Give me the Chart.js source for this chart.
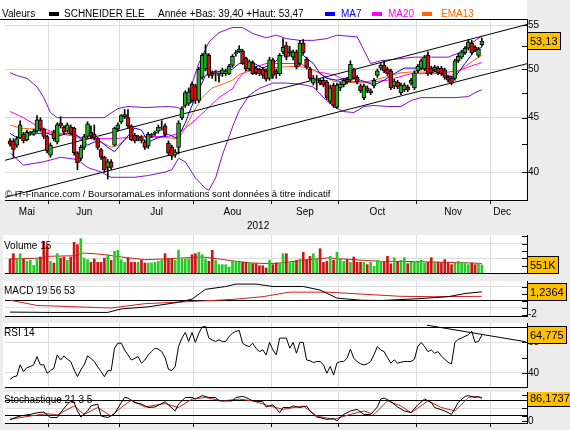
<!DOCTYPE html>
<html lang="fr">
<head>
<meta charset="UTF-8">
<title>SCHNEIDER ELE - Année</title>
<script src="https://cdn.jsdelivr.net/npm/chart.js"></script>
<style>
  body { margin: 0; background: #ececec; font-family: "Liberation Sans", Arial, sans-serif; font-size: 10px; color: #000; }
  #wrap { position: relative; width: 570px; height: 430px; overflow: hidden; }
  canvas { position: absolute; left: 0; }
  .t { position: absolute; white-space: nowrap; line-height: 12px; }
  .sw { position: absolute; width: 10px; height: 4px; }
</style>
</head>
<body>
<div id="wrap">
  <canvas id="cMain" width="570" height="235" style="top:0px"></canvas>
  <canvas id="cVol" width="570" height="41" style="top:235px"></canvas>
  <canvas id="cMacd" width="570" height="38" style="top:281px"></canvas>
  <canvas id="cRsi" width="570" height="67" style="top:323px"></canvas>
  <canvas id="cSto" width="570" height="38" style="top:392px"></canvas>

  <div class="t" style="left:2px;top:8px">Valeurs</div>
  <div class="sw" style="left:49px;top:12px;background:#000"></div>
  <div class="t" style="left:64px;top:8px">SCHNEIDER ELE</div>
  <div class="t" style="left:158px;top:8px">Année +Bas: 39,40 +Haut: 53,47</div>
  <div class="sw" style="left:325px;top:12px;background:#0000ff"></div>
  <div class="t" style="left:341px;top:8px;color:#0000ff">MA7</div>
  <div class="sw" style="left:372px;top:12px;background:#ff00ff"></div>
  <div class="t" style="left:388px;top:8px;color:#ff00ff">MA20</div>
  <div class="sw" style="left:422px;top:12px;background:#ff6600"></div>
  <div class="t" style="left:441px;top:8px;color:#ff6600">EMA13</div>

  <div class="t" style="left:5px;top:188px;font-size:9.5px">© IT-Finance.com / BoursoramaLes informations sont données à titre indicatif</div>
  <div class="t" style="left:247px;top:220px">2012</div>

  <div class="t" style="left:4px;top:240px">Volume 15</div>
  <div class="t" style="left:4px;top:285px">MACD 19 56 53</div>
  <div class="t" style="left:4px;top:327px">RSI 14</div>
  <div class="t" style="left:4px;top:394px">Stochastique 21 3 5</div>
</div>
<script>
// --- données (une séance par index, 0 = mi-mai) ---
const opens = [42.8,42.8,42.4,43.1,43.4,42.9,43.5,43.4,43.7,44.8, 43.9,43.2,41.5,43.6,42.7,44.5,44.1,43.7,44.1,44.0,
  41.7,41.2,42.2,43.2,43.6,43.4,43.0,42.0,41.3,40.4, 40.9,42.4,43.9,44.6,45.1,45.0,44.2,43.3,43.1,43.1,
  42.7,42.3,43.3,43.5,43.7,44.0,44.2,42.6,42.2,41.5, 42.2,45.0,46.2,46.4,48.4,48.2,46.7,49.1,50.0,51.5,
  49.6,49.5,49.3,49.5,49.5,49.5,50.4,51.7,51.9,52.0, 51.2,50.0,50.7,50.1,50.0,50.0,49.8,49.0,51.0,49.8,
  49.5,51.9,52.6,51.8,51.3,51.9,50.6,52.9,51.1,50.0, 48.5,48.8,48.8,48.8,48.6,46.6,48.3,46.0,48.0,48.3,
  48.9,48.8,49.9,49.1,48.2,47.0,48.0,47.5,48.2,49.3, 50.1,50.4,50.0,49.8,48.2,48.6,47.5,47.8,48.1,48.5,
  48.0,49.8,50.1,50.0,51.5,50.1,49.9,50.1,50.1,49.9, 49.1,49.0,49.0,50.9,51.3,51.8,52.3,52.9,52.4,51.5,
  52.7];
const highs = [43.0,43.0,43.2,44.7,43.6,43.8,43.7,43.9,45.2,45.0, 44.0,43.3,42.6,43.8,44.5,45.1,44.2,44.5,44.3,44.1,
  41.8,42.4,43.4,44.6,44.2,44.3,43.1,42.1,41.4,41.1, 41.1,44.1,44.5,45.3,45.8,45.8,44.3,43.5,43.3,43.3,
  42.9,43.6,43.5,43.7,44.3,44.7,44.4,42.8,42.4,42.0, 44.7,46.1,47.7,48.0,48.6,48.4,50.2,51.7,52.7,51.7,
  49.8,49.8,49.6,50.1,50.0,50.5,51.6,52.1,52.6,52.2, 51.3,51.0,50.9,50.3,50.1,50.2,50.0,51.3,51.2,50.0,
  51.7,53.4,53.0,52.5,52.1,52.1,53.2,53.3,51.3,50.2, 49.3,49.3,49.0,49.0,48.8,48.3,48.5,48.5,48.6,49.0,
  49.1,50.9,50.1,49.3,48.4,48.4,48.2,47.9,49.0,50.0, 50.6,50.9,50.2,50.0,48.9,48.8,48.5,48.5,48.3,49.0,
  49.8,50.5,51.1,51.5,51.9,50.3,50.4,50.3,50.3,50.1, 49.3,49.2,51.1,51.7,52.1,52.5,53.3,53.2,52.6,52.4,
  53.47];
const lows = [42.3,41.3,42.2,43.0,42.6,42.8,43.3,43.3,43.6,43.7, 43.0,41.7,41.3,42.8,42.5,44.0,43.4,43.6,43.4,41.5,
  40.2,41.0,42.0,43.0,43.0,42.9,42.0,41.1,40.0,39.4, 40.2,42.3,43.7,44.4,44.9,44.0,42.8,42.6,42.8,42.6,
  42.0,42.1,43.1,43.3,43.5,43.8,43.2,41.5,41.1,41.3, 41.6,44.8,46.0,46.2,46.5,46.4,46.5,48.9,49.8,49.1,
  49.0,48.7,48.6,49.2,49.3,49.4,50.2,51.4,51.8,50.5, 49.8,49.8,49.4,49.4,49.3,49.0,48.7,48.8,49.0,49.0,
  49.3,51.7,51.0,51.4,51.0,50.0,50.4,51.6,50.0,48.8, 48.3,47.8,48.3,48.1,46.8,46.4,46.0,45.9,47.7,48.1,
  48.4,48.6,48.9,48.4,47.5,46.8,47.5,47.3,48.0,49.1, 49.9,49.6,49.3,47.8,47.9,47.9,47.3,47.6,47.6,48.3,
  47.8,49.6,49.9,49.8,49.3,49.4,49.7,49.4,49.3,48.9, 48.6,48.3,48.8,50.7,51.1,51.6,52.1,51.6,51.9,51.3,
  52.5];
const closes = [42.5,42.0,43.0,44.3,42.8,43.6,43.55,43.7,44.8,43.9, 43.2,41.9,42.4,43.0,44.3,44.2,43.6,44.3,43.5,41.7,
  40.8,42.2,43.2,44.4,43.2,43.1,42.2,41.3,40.2,40.9, 40.4,44.0,44.3,45.2,45.3,44.2,42.9,42.8,43.15,42.8,
  42.2,43.4,43.35,43.55,44.1,44.05,43.4,41.7,41.4,41.8, 44.5,45.9,47.5,47.6,46.7,46.7,50.0,51.5,51.7,49.3,
  49.3,49.55,49.35,49.9,49.8,50.3,51.4,51.75,52.2,50.6, 50.0,50.8,49.5,49.6,49.5,49.3,48.9,51.0,49.3,49.5,
  51.5,52.4,51.3,52.0,51.9,50.2,52.9,51.8,50.2,49.0, 49.0,48.85,48.5,48.3,47.0,48.0,46.2,48.3,48.4,48.8,
  48.6,50.5,49.0,48.6,47.7,48.2,47.7,47.7,48.8,49.8, 50.4,49.8,49.5,48.0,48.7,48.1,48.3,48.3,47.8,48.8,
  49.6,50.3,50.9,51.3,49.5,49.6,50.2,49.6,49.5,49.1, 48.8,48.5,50.9,51.4,51.9,52.3,53.0,51.8,52.1,52.2,
  53.13];

const ma7Days = [0,2,5,8,11,14,17,20,23,25,27,29,31,34,37,39,41,44,47,49,50,52,54,56,58,61,64,66,68,70,72,75,78,82,85,87,90,92,94,97,101,104,108,111,114,117,121,126,129,132,135,138,140];
const ma7Vals = [43.5,43.1,43.4,43.5,43.5,43.2,43.5,43.3,42.4,42.7,42.7,42.2,41.8,42.9,44.0,43.8,42.7,43.1,43.4,43.1,43.2,44.5,46.2,47.8,49.3,49.8,49.6,50.0,50.6,50.7,50.7,50.1,50.6,51.8,51.8,51.5,50.6,49.5,49.0,48.8,49.1,48.8,48.3,48.8,49.5,50.1,50.1,49.8,49.3,49.1,50.6,52.1,52.4];
const ma20Days = [0,4,8,12,18,23,31,38,47,50,54,58,62,66,68,70,72,76,81,86,91,96,100,107,112,119,126,133,137,140];
const ma20Vals = [45.6,45.0,44.2,43.7,43.3,43.0,43.0,43.2,43.2,43.5,44.5,45.7,47.0,47.9,49.1,49.8,50.1,50.6,50.6,50.6,49.7,49.4,48.7,48.6,48.8,49.5,49.5,49.8,50.35,50.7];
const emaDays = [0,3,7,11,15,19,21,24,27,30,32,35,38,42,46,50,52,54,57,60,64,66,68,72,76,80,85,89,93,96,100,104,108,111,116,120,126,131,134,137,140];
const emaVals = [44.3,44.0,43.9,43.6,43.4,43.3,42.9,43.0,42.7,42.2,42.4,43.1,43.2,43.1,43.1,43.0,44.0,45.3,47.0,48.0,48.5,48.8,49.4,49.9,50.0,50.2,50.3,50.1,49.3,48.7,48.6,48.5,48.8,49.1,49.6,49.7,49.6,49.3,50.0,50.8,51.5];
const bbUpDays = [0,2,5,8,10,12,14,28,32,35,40,47,50,51,53,56,59,62,66,69,72,76,79,82,86,90,94,97,100,103,105,107,110,115,120,125,130,134,137,140];
const bbUpVals = [49.6,49.3,49.0,48.1,47.0,45.5,45.0,45.0,45.9,46.1,46.0,46.1,46.0,45.7,47.4,50.6,53.0,54.1,54.7,54.7,54.0,53.5,53.8,53.4,53.2,53.2,53.4,53.8,53.7,53.6,52.1,50.6,50.9,51.1,51.3,51.3,51.3,51.9,52.9,53.7];
const bbLoDays = [0,4,10,15,20,23,27,30,37,41,46,48,50,52,55,58,59,61,63,66,68,71,74,78,82,86,90,93,96,99,102,105,108,112,116,119,122,127,132,136,138,140];
const bbLoVals = [41.7,40.6,40.9,41.3,41.1,40.4,40.0,39.55,39.55,39.7,40.0,40.2,41.2,40.9,39.5,38.6,38.45,39.5,41.5,44.1,45.7,47.25,47.95,48.5,48.5,48.4,48.1,47.0,46.1,45.6,45.5,46.1,46.2,46.1,46.1,46.7,47.0,47.0,47.0,47.1,47.5,47.8];
const chanHighDays = [-1.5, 153.4];
const chanHighVals = [41.03, 55.06];
const chanLowDays = [-1.5, 153.4];
const chanLowVals = [37.87, 50.58];

const volumes = [958,1322,958,1322,958,798,866,524,958,1094,2166,1870,798,684,1322,1026,1094,866,1094,2098,
  1938,2348,1026,912,730,958,730,730,1026,1254,866,1482,1550,912,730,1026,730,730,730,866,
  684,684,684,730,798,866,1322,958,958,866,1550,958,958,958,1254,1322,1414,1254,958,798,
  1550,866,570,570,570,410,866,730,730,730,730,730,638,638,502,502,342,866,570,684,
  684,1322,1322,730,730,866,958,1414,912,1140,1322,958,1664,730,798,1140,866,1414,958,798,
  912,730,1094,730,730,730,570,730,456,866,798,730,1140,638,1049,798,866,1049,638,730,
  798,730,866,684,730,1049,730,730,684,912,684,570,684,798,730,684,570,684,570,684,
  551];
const volMaDays = [0,10,11,20,21,25,28,33,40,46,51,57,62,67,72,77,80,87,94,99,105,110,116,126,137,140];
const volMaVals = [958,1026,1140,1186,1368,1322,1254,1094,912,958,1026,1094,958,798,684,638,684,866,1026,958,866,798,798,752,684,638];

const macdDays = [0,12,29,33,41,50,54,58,64,67,73,78,87,92,97,104,110,121,130,135,140];
const macdVals = [-1.65,-1.7,-1.7,-1.2,-0.9,-0.25,0.2,1.6,2.0,2.35,2.35,2.0,2.0,1.5,0.35,0.05,0.0,0.25,0.55,1.0,1.24];
const signalDays = [0,8,20,30,40,62,67,75,83,94,105,116,126,140];
const signalVals = [0.05,-0.7,-0.9,-1.07,-0.45,0.05,0.2,0.55,1.2,1.2,0.9,0.6,0.55,0.6];

const rsi = [35.8,37.5,38.0,45.3,40.9,43.5,44.2,45.3,50.7,45.3, 45.3,39.8,41.5,43.1,51.8,48.5,51.2,49.0,47.5,42.0,
  37.6,42.0,45.3,51.2,49.5,47.5,44.0,41.0,37.6,41.5, 41.5,56.2,59.5,59.5,55.0,51.8,48.5,49.5,50.7,46.4,
  48.5,51.8,54.0,56.2,55.6,54.0,50.0,42.4,41.5,44.2, 57.3,62.8,66.5,60.6,66.5,60.0,66.0,70.0,70.5,62.8,
  61.5,60.6,61.7,60.6,60.6,63.9,66.0,67.2,67.8,59.5, 58.0,57.3,59.5,56.0,54.0,55.1,51.8,60.0,55.1,51.8,
  62.8,62.8,62.8,56.2,60.0,52.9,60.0,60.0,48.5,48.0, 46.8,47.5,47.5,45.3,39.8,44.2,38.7,46.4,47.5,47.5,
  49.6,55.6,49.6,47.5,46.0,45.3,46.0,47.5,52.0,57.3, 55.0,54.0,50.0,46.4,48.5,46.4,47.0,47.5,47.5,47.5,
  49.0,57.3,60.0,57.3,54.0,55.1,52.9,54.0,51.0,49.0, 47.0,45.9,60.0,62.0,62.8,64.0,65.0,67.2,60.0,60.6,
  64.775];
const rsiTrendDays = [123.7, 153.1];
const rsiTrendVals = [71.25, 60.4];

const stoKDays = [0,3,6,8,10,12,14,15,17,18,19,20,21,23,24,26,27,29,31,33,34,35,37,39,41,43,46,47,49,50,52,54,55,57,59,61,62,64,66,67,69,70,72,75,76,78,80,81,83,84,86,88,89,91,92,94,96,97,98,99,101,103,105,107,109,110,111,113,115,117,119,121,123,125,126,129,131,133,135,136,138,139,140];
const stoKVals = [7,20,26,32,35,14,14,33,64,77,71,39,16,39,58,65,20,14,29,71,90,88,71,65,52,54,74,62,39,65,90,90,84,97,90,90,77,77,77,90,94,90,77,74,54,62,33,52,52,58,52,58,39,16,14,7,11,1,16,26,39,45,26,26,54,84,88,75,54,39,33,62,84,71,52,39,26,71,94,97,90,93,86.17];
const stoDDays = [0,6,11,14,19,22,26,30,33,36,40,46,50,54,58,63,68,72,77,81,87,91,96,101,105,108,112,116,119,124,128,132,136,138,140];
const stoDVals = [7,20,29,24,58,26,52,20,52,80,54,67,52,84,90,77,84,77,58,45,58,20,7,26,39,26,77,58,32,77,52,39,90,94,90];

const monthLabels = ['Mai','Jun','Jul','Aou','Sep','Oct','Nov','Dec'];
const monthLabelDays = [5,22,43.5,66,87.5,109,131.5,146];
const monthStarts = [11.5,32.5,54.5,77.5,97.5,120.5,142.5];
const priceTicks = [40,42.5,45,47.5,50,52.5,55];
const priceLabels = [40,45,50,55];
const volTicks = [500,1000,1500,2000,2500];
const macdTicks = [-2,-1,0,1,2];
const rsiTicks = [40,50,60,70];
const stoTicks = [0,20,50,80,100];

const lastPrice = 53.13, lastVol = 551, lastMacd = 1.2364, lastRsi = 64.775, lastSto = 86.1737;

// --- mise en forme ---
Chart.defaults.font.family = '"Liberation Sans", Arial, sans-serif';
Chart.defaults.font.size = 10;
Chart.defaults.color = '#000';
Chart.defaults.animation = false;
Chart.defaults.responsive = false;
Chart.defaults.plugins.legend.display = false;
Chart.defaults.plugins.tooltip.enabled = false;
Chart.defaults.elements.point.radius = 0;
Chart.defaults.elements.line.borderWidth = 1;
Chart.defaults.elements.line.tension = 0;

const GREEN = '#1db01d', RED = '#cc1010', VGREEN = '#22cc22', VRED = '#cc1515';
const GRID = '#dddddd', NONE = 'rgba(0,0,0,0)';
const xMin = -1.5, xMax = 153.4;

const days = closes.map((c, i) => i);
const upDay = days.map(i => closes[i] >= opens[i]);
const pts = (xs, ys) => xs.map((x, k) => ({x: x, y: ys[k]}));
const line = (xs, ys, color, order) => ({type: 'line', data: pts(xs, ys), borderColor: color, borderWidth: 1, pointRadius: 0, order: order || 3});

const panelBg = {
  id: 'panelBg',
  beforeDraw(chart, args, opts) {
    const ctx = chart.ctx, a = chart.chartArea;
    const left = opts.left || 0;
    const top = opts.top != null ? opts.top : a.top;
    ctx.save();
    ctx.fillStyle = '#fff';
    ctx.fillRect(left, top, a.right - left, a.bottom - top);
    ctx.restore();
  },
  afterDraw(chart, args, opts) {
    if (!opts.topLine) return;
    const ctx = chart.ctx, a = chart.chartArea;
    ctx.save();
    ctx.strokeStyle = '#000';
    ctx.lineWidth = 1;
    ctx.beginPath();
    ctx.moveTo(0, a.top + 0.5);
    ctx.lineTo(a.right, a.top + 0.5);
    ctx.stroke();
    ctx.restore();
  }
};

// petits traits de graduation à l'intérieur, contre l'axe de droite
const innerTicks = {
  id: 'innerTicks',
  afterDatasetsDraw(chart) {
    const s = chart.scales.y, a = chart.chartArea, ctx = chart.ctx;
    ctx.save();
    ctx.strokeStyle = '#000';
    ctx.lineWidth = 1;
    ctx.beginPath();
    s.ticks.forEach(t => {
      const y = Math.round(s.getPixelForValue(t.value)) + 0.5;
      ctx.moveTo(a.right - 5, y);
      ctx.lineTo(a.right, y);
    });
    ctx.stroke();
    ctx.restore();
  }
};

const valueTag = {
  id: 'valueTag',
  afterDraw(chart, args, opts) {
    if (!opts.text) return;
    const ctx = chart.ctx, a = chart.chartArea;
    const y = Math.round(chart.scales.y.getPixelForValue(opts.value));
    ctx.save();
    ctx.font = '11px "Liberation Sans", Arial, sans-serif';
    const w = Math.ceil(ctx.measureText(opts.text).width) + 5;
    ctx.fillStyle = '#ffc000';
    ctx.fillRect(a.right + 0.5, y - 8.5, w, 17);
    ctx.strokeStyle = '#000';
    ctx.lineWidth = 1;
    ctx.strokeRect(a.right + 0.5, y - 8.5, w, 17);
    ctx.fillStyle = '#000';
    ctx.textBaseline = 'middle';
    ctx.fillText(opts.text, a.right + 3, y + 1);
    ctx.restore();
  }
};

function hLines(black, grey) {
  return c => {
    const v = c.tick ? c.tick.value : NaN;
    if (black.indexOf(v) >= 0) return '#000';
    if (grey.indexOf(v) >= 0) return GRID;
    return NONE;
  };
}

function yRight(min, max, tickVals, labelVals, black, grey, type) {
  return {
    type: type || 'linear', position: 'right', min: min, max: max,
    afterBuildTicks: s => { s.ticks = tickVals.map(v => ({value: v})); },
    afterFit: s => { s.width = 43; s.paddingTop = 0; s.paddingBottom = 0; },
    border: { color: '#000' },
    grid: { drawTicks: false, color: hLines(black, grey) },
    ticks: { padding: 1, autoSkip: false, callback: v => labelVals.indexOf(v) >= 0 ? String(v) : '' }
  };
}

function xPanel(h) {
  return {
    type: 'linear', min: xMin, max: xMax, offset: false,
    afterBuildTicks: s => { s.ticks = monthStarts.map(v => ({value: v})); },
    afterFit: s => { s.height = h; s.paddingLeft = 0; s.paddingRight = 0; },
    border: { color: '#000' },
    grid: { color: GRID, offset: false, drawTicks: h > 0, tickLength: h, tickColor: '#000' },
    ticks: { display: false }
  };
}

// --- graphique principal ---
new Chart(document.getElementById('cMain'), {
  type: 'bar',
  data: {
    datasets: [
      { type: 'bar', order: 0, grouped: false, barThickness: 4, minBarLength: 1,
        data: days.map(i => ({x: i, y: [opens[i], closes[i]]})),
        backgroundColor: days.map(i => upDay[i] ? GREEN : RED),
        borderColor: '#000', borderWidth: 1, borderSkipped: false },
      { type: 'bar', order: 1, grouped: false, barThickness: 1,
        data: days.map(i => ({x: i, y: [lows[i], highs[i]]})),
        backgroundColor: '#000' },
      line(chanHighDays, chanHighVals, '#000', 2),
      line(chanLowDays, chanLowVals, '#000', 2),
      line(ma7Days, ma7Vals, '#0000ff'),
      line(emaDays, emaVals, '#ff6600', 4),
      line(ma20Days, ma20Vals, '#ff00ff', 5),
      line(bbUpDays, bbUpVals, '#8410c8', 6),
      line(bbLoDays, bbLoVals, '#8410c8', 6)
    ]
  },
  options: {
    layout: { padding: { left: 5, top: 19, right: 0, bottom: 0 } },
    plugins: { panelBg: { left: 0, top: 0, topLine: true }, valueTag: { value: lastPrice, text: '53,13' } },
    scales: {
      x: {
        type: 'linear', min: xMin, max: xMax, offset: false,
        afterBuildTicks: s => {
          s.ticks = monthStarts.concat(monthLabelDays).sort((a, b) => a - b).map(v => ({value: v}));
        },
        afterFit: s => { s.height = 35; s.paddingLeft = 0; s.paddingRight = 0; },
        border: { color: '#000' },
        grid: {
          offset: false, tickLength: 4,
          color: c => (c.tick && monthStarts.indexOf(c.tick.value) >= 0) ? GRID : NONE,
          tickColor: c => (c.tick && monthStarts.indexOf(c.tick.value) >= 0) ? '#000' : NONE
        },
        ticks: {
          autoSkip: false, maxRotation: 0, padding: 2,
          callback: v => { const k = monthLabelDays.indexOf(v); return k >= 0 ? monthLabels[k] : ''; }
        }
      },
      y: yRight(37.65, 55.72, priceTicks, priceLabels, [], priceLabels, 'logarithmic')
    }
  },
  plugins: [panelBg, innerTicks, valueTag]
});

// --- volume ---
new Chart(document.getElementById('cVol'), {
  type: 'bar',
  data: {
    datasets: [
      { type: 'bar', order: 1, grouped: false, barThickness: 2,
        data: pts(days, volumes),
        backgroundColor: days.map(i => upDay[i] ? VGREEN : VRED) },
      line(volMaDays, volMaVals, '#d02020', 0)
    ]
  },
  options: {
    layout: { padding: { left: 5, top: 0, right: 0, bottom: 3 } },
    plugins: { panelBg: { left: 3 }, valueTag: { value: lastVol, text: '551K' } },
    scales: { x: xPanel(0), y: yRight(0, 2600, volTicks, [], [], [1000, 2000]) }
  },
  plugins: [panelBg, innerTicks, valueTag]
});

// --- MACD ---
new Chart(document.getElementById('cMacd'), {
  type: 'line',
  data: {
    datasets: [
      line(macdDays, macdVals, '#000', 1),
      line(signalDays, signalVals, '#d02020', 2)
    ]
  },
  options: {
    layout: { padding: { left: 5, top: 0, right: 0, bottom: 3 } },
    plugins: { panelBg: { left: 3 }, valueTag: { value: lastMacd, text: '1,2364' } },
    scales: { x: xPanel(0), y: yRight(-2.21, 2.79, macdTicks, [-2], [0], [2, -1]) }
  },
  plugins: [panelBg, innerTicks, valueTag]
});

// --- RSI ---
new Chart(document.getElementById('cRsi'), {
  type: 'line',
  data: {
    datasets: [
      line(days, rsi, '#000', 1),
      line(rsiTrendDays, rsiTrendVals, '#000', 2)
    ]
  },
  options: {
    layout: { padding: { left: 5, top: 0, right: 0, bottom: 3 } },
    plugins: { panelBg: { left: 3 }, valueTag: { value: lastRsi, text: '64,775' } },
    scales: { x: xPanel(0), y: yRight(30.8, 72.7, rsiTicks, [40, 60], [70], [40, 60]) }
  },
  plugins: [panelBg, innerTicks, valueTag]
});

// --- Stochastique ---
new Chart(document.getElementById('cSto'), {
  type: 'line',
  data: {
    datasets: [
      line(stoKDays, stoKVals, '#000', 1),
      line(stoDDays, stoDVals, '#d02020', 2)
    ]
  },
  options: {
    layout: { padding: { left: 5, top: 0, right: 0, bottom: 3 } },
    plugins: { panelBg: { left: 3 }, valueTag: { value: lastSto, text: '86,1737' } },
    scales: { x: xPanel(4), y: yRight(-6.5, 110.7, stoTicks, [0], [20, 80], [50]) }
  },
  plugins: [panelBg, innerTicks, valueTag]
});
</script>
</body>
</html>
